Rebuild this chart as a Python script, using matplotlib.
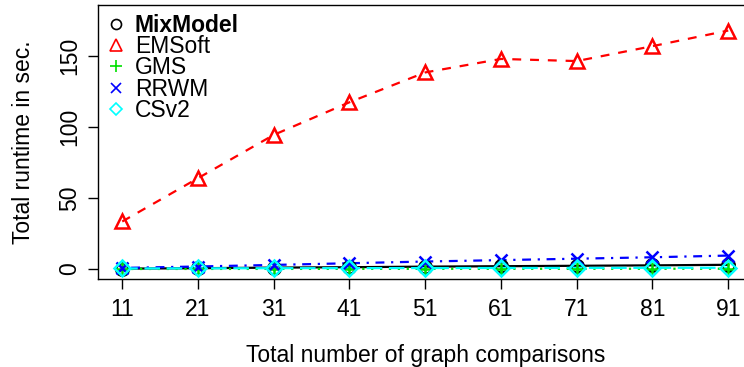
import numpy as np
import matplotlib.pyplot as plt
from matplotlib.lines import Line2D

plt.rcParams['font.family'] = ['Liberation Sans', 'DejaVu Sans']

# data
comparisons = [11, 21, 31, 41, 51, 61, 71, 81, 91]
mixmodel = [0.3, 0.6, 1.0, 1.3, 1.7, 2.0, 2.3, 2.6, 3.0]
emsoft = [33.5, 64, 94.5, 117.5, 138.5, 148, 146.5, 157, 168]
gms = [0.05, 0.08, 0.1, 0.12, 0.15, 0.17, 0.2, 0.22, 0.25]
rrwm = [0.8, 1.8, 2.9, 4.1, 5.3, 6.3, 7.3, 8.3, 9.5]
csv2 = [0.4, 0.5, 0.6, 0.65, 0.7, 0.75, 0.8, 0.85, 0.9]

names = ['MixModel', 'EMSoft', 'GMS', 'RRWM', 'CSv2']
series = [mixmodel, emsoft, gms, rrwm, csv2]
colors = ['black', '#FF0000', '#00E000', '#0000FF', '#00FFFF']
markers = ['o', '^', '+', 'x', 'D']
styles = ['-', (0, (4, 4)), (0, (1, 3)), (0, (1, 3, 4, 3)), (0, (7, 3))]
msizes = [9, 10, 10, 9, 8]

fig = plt.figure(figsize=(7.44, 3.67), dpi=100)
ax = fig.add_axes([0.1317, 0.2398, 0.8797, 0.7466])

for y, c, m, ls, ms in zip(series, colors, markers, styles, msizes):
    ax.plot(comparisons, y, color=c, linestyle=ls, linewidth=1.6, zorder=2)
    ax.plot(comparisons, y, color=c, linestyle='none', marker=m, markersize=ms,
            markerfacecolor='none', markeredgewidth=1.8, zorder=3)

ax.set_xlim(7.8, 94.2)
ax.set_ylim(-7, 186)
ax.set_xticks(comparisons)
ax.set_yticks([0, 50, 100, 150])
ax.tick_params(axis='both', direction='out', length=7, width=1, labelsize=16.5, pad=7)
ax.tick_params(axis='y', labelrotation=90, pad=5)
for lab in ax.get_yticklabels():
    lab.set_verticalalignment('center')
for sp in ax.spines.values():
    sp.set_linewidth(1)

ax.set_xlabel('Total number of graph comparisons', fontsize=16.5, labelpad=16)
ax.set_ylabel('Total runtime in sec.', fontsize=16.5, labelpad=17)

handles = [Line2D([], [], color=c, marker=m, linestyle='none', markersize=ms * 0.8,
                  markerfacecolor='none', markeredgewidth=1.2)
           for c, m, ms in zip(colors, markers, msizes)]
leg = ax.legend(handles, names, loc='upper left', bbox_to_anchor=(0.0, 1.0),
                frameon=False, fontsize=16.5, handlelength=0.8, handletextpad=0.4,
                labelspacing=-0.08, borderaxespad=0.1, borderpad=0.3)
leg.get_texts()[0].set_fontweight('bold')

plt.savefig('out.png', dpi=100)
